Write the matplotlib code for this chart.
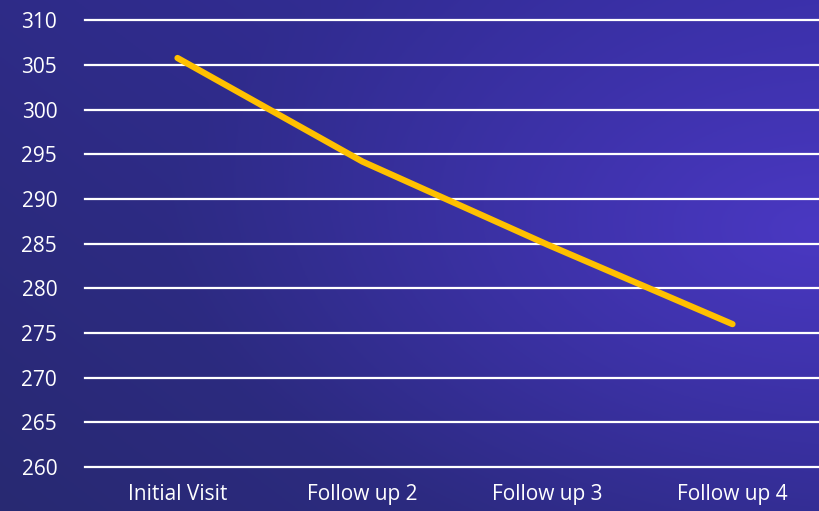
import numpy as np
import matplotlib.pyplot as plt

categories = ["Initial Visit", "Follow up 2", "Follow up 3", "Follow up 4"]
values = [305.8, 294.2, 284.9, 276.0]
y_ticks = [260, 265, 270, 275, 280, 285, 290, 295, 300, 305, 310]

plt.rcParams['font.family'] = ['Open Sans', 'DejaVu Sans']

fig = plt.figure(figsize=(8.2, 5.11), dpi=100)

# background gradient (dark navy left/bottom -> purple-blue right)
bg = fig.add_axes([0, 0, 1, 1], zorder=0)
h, w = 200, 320
yy, xx = np.mgrid[0:1:h * 1j, 0:1:w * 1j]
dark = np.array([0x28, 0x29, 0x72]) / 255
mid = np.array([0x36, 0x2e, 0xa2]) / 255
light = np.array([0x4a, 0x38, 0xc2]) / 255
t = np.clip(0.55 * xx + 0.45 * (1 - yy), 0, 1)
img = dark[None, None, :] * (1 - t[..., None]) + mid[None, None, :] * t[..., None]
d = np.sqrt(((xx - 1.0) / 0.8) ** 2 + ((yy - 0.45) / 0.7) ** 2)
r = np.clip(1 - d, 0, 1) ** 1.2
img = img * (1 - r[..., None]) + light[None, None, :] * r[..., None]
bg.imshow(img, aspect='auto', extent=[0, 1, 0, 1], origin='upper')
bg.axis('off')

ax = fig.add_axes([85 / 820, 1 - 467 / 511, 740 / 820, 446.5 / 511], zorder=1)
ax.patch.set_alpha(0)
x = np.arange(len(categories))
ax.plot(x, values, color='#FFC000', linewidth=4.5, solid_capstyle='round', zorder=3)

ax.set_xlim(-0.5, len(categories) - 0.5)
ax.set_ylim(260, 310)
ax.set_yticks(y_ticks)
ax.set_xticks(x)
ax.set_xticklabels(categories)
ax.yaxis.grid(True, color='white', linewidth=1.6)
for gl in ax.get_ygridlines():
    gl.set_clip_on(False)
ax.set_axisbelow(True)
for s in ax.spines.values():
    s.set_visible(False)
ax.tick_params(axis='both', length=0, colors='white', labelsize=15)
ax.tick_params(axis='y', pad=20)
ax.tick_params(axis='x', pad=12)

fig.savefig("out.png", dpi=100)
